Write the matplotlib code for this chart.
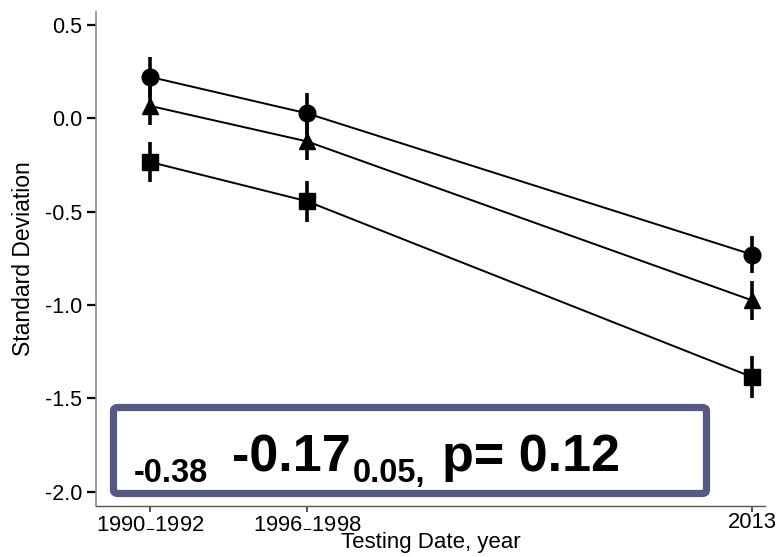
import matplotlib
matplotlib.use("Agg")
import matplotlib.pyplot as plt
from matplotlib.patches import FancyBboxPatch

plt.rcParams['font.family'] = ['Liberation Sans', 'DejaVu Sans']
plt.rcParams['axes.unicode_minus'] = False
plt.rcParams['mathtext.fontset'] = 'custom'
plt.rcParams['mathtext.rm'] = 'Liberation Sans'
plt.rcParams['mathtext.it'] = 'Liberation Sans:italic'
plt.rcParams['mathtext.bf'] = 'Liberation Sans:bold'

# Testing waves (plotted at the first year of each window)
x_pos = [1990, 1996, 2013]
x_labels = [r"1990$_{\mathrm{-}}$1992", r"1996$_{\mathrm{-}}$1998", "2013"]

# Mean scores (standard deviation units) and their error half-widths
circle_vals = [0.22, 0.025, -0.73]
circle_err = [0.105, 0.11, 0.10]
triangle_vals = [0.065, -0.125, -0.975]
triangle_err = [0.10, 0.10, 0.105]
square_vals = [-0.235, -0.445, -1.385]
square_err = [0.105, 0.11, 0.11]

y_ticks = [0.5, 0.0, -0.5, -1.0, -1.5, -2.0]

W, H = 780, 557
fig = plt.figure(figsize=(W / 100, H / 100), dpi=100)
ax = fig.add_axes([96 / W, 51 / H, 669 / W, 494 / H])

series = [
    (circle_vals, circle_err, 'o'),
    (triangle_vals, triangle_err, '^'),
    (square_vals, square_err, 's'),
]
for vals, err, mk in series:
    ax.errorbar(x_pos, vals, yerr=err, fmt='none', ecolor='black',
                elinewidth=2.6, capsize=0, zorder=2)
    ax.plot(x_pos, vals, color='black', linewidth=1.4, zorder=3)
    ax.plot(x_pos, vals, linestyle='none', marker=mk, markersize=12,
            color='black', zorder=4)

ax.set_xlim(1987.94, 2013.5)
ax.set_ylim(-2.075, 0.567)
ax.set_xticks(x_pos)
ax.set_xticklabels(x_labels)
ax.set_yticks(y_ticks)
ax.set_yticklabels([f"{v:.1f}" for v in y_ticks])

for s in ('top', 'right'):
    ax.spines[s].set_visible(False)
ax.spines['left'].set_color('#8a8a8a')
ax.spines['left'].set_linewidth(1.2)
ax.spines['bottom'].set_color('#555555')
ax.spines['bottom'].set_linewidth(1.0)

ax.tick_params(axis='y', direction='out', length=6.5, width=1.6,
               color='black', labelsize=15.5, pad=3.5)
ax.tick_params(axis='x', direction='out', length=4.3, width=1.2,
               color='#333333', labelsize=15.8, pad=0.3)

ax.set_ylabel("Standard Deviation", fontsize=16.5, labelpad=7)
ax.set_xlabel("Testing Date, year", fontsize=16, labelpad=-1)

# Annotation box with the estimate and its interval
def fx(px):
    return px / W

def fy(py):
    return 1 - py / H

box = FancyBboxPatch((fx(113.5), fy(493.5)), fx(706.5) - fx(113.5),
                     fy(407.5) - fy(493.5),
                     boxstyle="round,pad=0,rounding_size=0.006",
                     transform=fig.transFigure, facecolor='white',
                     edgecolor='#585884', linewidth=5.2, zorder=5)
fig.add_artist(box)

fig.text(fx(134), fy(482), "-0.38", fontsize=23.5, fontweight='bold',
         ha='left', va='baseline', zorder=6)
fig.text(fx(232), fy(471), "-0.17", fontsize=37.5, fontweight='bold',
         ha='left', va='baseline', zorder=6)
fig.text(fx(353), fy(482), "0.05,", fontsize=23.5, fontweight='bold',
         ha='left', va='baseline', zorder=6)
fig.text(fx(442), fy(471), "p= 0.12", fontsize=37.5, fontweight='bold',
         ha='left', va='baseline', zorder=6)

fig.savefig("out.png", dpi=100)
